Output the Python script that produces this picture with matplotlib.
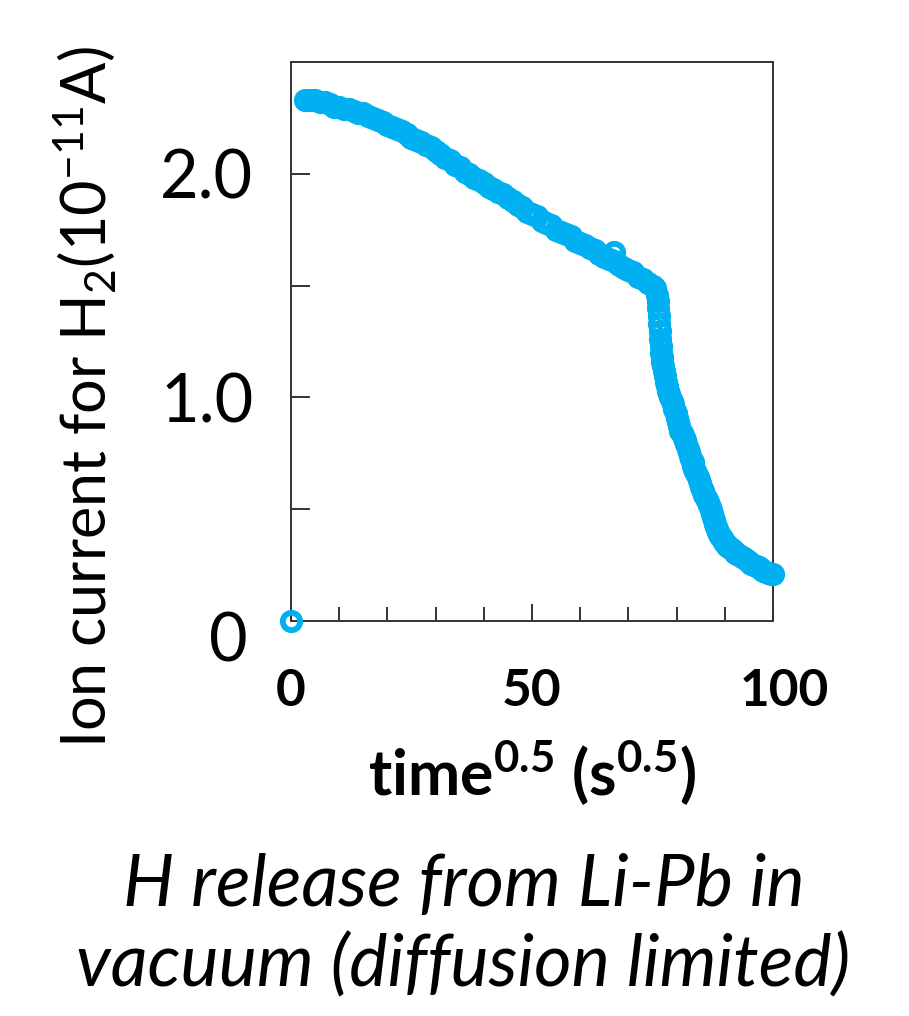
import matplotlib
matplotlib.use("Agg")
import matplotlib.pyplot as plt
from matplotlib.ticker import FixedLocator, MultipleLocator
from matplotlib.transforms import ScaledTranslation

# ---- data ----
time_sqrt = [0,
             3, 4, 5, 6, 7, 8, 9, 10, 11, 12, 13, 14, 15, 16, 17, 18, 19, 20,
             21, 22, 23, 24, 25, 26, 27, 28, 29, 30, 31, 32, 33, 34, 35, 36, 37, 38, 39, 40,
             41, 42, 43, 44, 45, 46, 47, 48, 49, 50, 51, 52, 53, 54, 55, 56, 57, 58, 59, 60,
             61, 62, 63, 64, 65, 66, 67, 68, 69, 70, 71, 72, 73, 74, 75, 75.5,
             76.0, 76.1, 76.2, 76.3, 76.4, 76.5, 76.6, 76.7, 76.8, 76.9, 77.0, 77.15, 77.3, 77.5,
             77.7, 77.95, 78.2, 78.45, 78.7, 79.0, 79.3, 79.55, 79.8, 80.05, 80.3, 80.55, 80.8, 81.05,
             81.3, 81.55, 81.8, 82.05, 82.3, 82.55, 82.8, 83.05, 83.3, 83.5, 83.7, 83.9, 84.1, 84.35,
             84.6, 84.85, 85.1, 85.3, 85.5, 85.75, 86.0, 86.25, 86.5, 86.7, 86.9, 87.1, 87.3, 87.5,
             87.7, 87.9, 88.1, 88.35, 88.6, 88.85, 89.1, 89.35, 89.6, 89.9, 90.2, 90.5, 90.8, 91.15,
             91.5, 91.85, 92.2, 92.6, 93, 93.5, 94, 94.5, 95, 95.5, 96, 96.5, 97, 97.5, 98, 98.5, 99, 99.5, 100,
             67]
ion_current = [0.0,
               2.33, 2.33, 2.33, 2.32, 2.32, 2.31, 2.30, 2.30, 2.29, 2.29, 2.28, 2.27, 2.27, 2.26, 2.25, 2.24, 2.23, 2.22,
               2.21, 2.20, 2.19, 2.18, 2.16, 2.15, 2.14, 2.13, 2.12, 2.10, 2.09, 2.07, 2.06, 2.04, 2.03, 2.01, 2.00, 1.98, 1.97, 1.96,
               1.94, 1.93, 1.92, 1.91, 1.89, 1.88, 1.86, 1.85, 1.83, 1.82, 1.81, 1.79, 1.78, 1.77, 1.75, 1.74, 1.73, 1.72, 1.70, 1.69,
               1.68, 1.67, 1.66, 1.64, 1.63, 1.62, 1.61, 1.59, 1.58, 1.57, 1.56, 1.54, 1.53, 1.51, 1.50, 1.49,
               1.46, 1.43, 1.40, 1.365, 1.33, 1.295, 1.26, 1.23, 1.20, 1.18, 1.16, 1.14, 1.12, 1.095,
               1.07, 1.05, 1.03, 1.015, 1.00, 0.985, 0.97, 0.95, 0.93, 0.91, 0.89, 0.87, 0.85, 0.84,
               0.83, 0.82, 0.81, 0.79, 0.77, 0.755, 0.74, 0.725, 0.71, 0.695, 0.68, 0.67, 0.66, 0.645,
               0.63, 0.615, 0.60, 0.59, 0.58, 0.565, 0.55, 0.54, 0.53, 0.52, 0.51, 0.495, 0.48, 0.465,
               0.45, 0.435, 0.42, 0.41, 0.40, 0.39, 0.38, 0.37, 0.36, 0.352, 0.345, 0.337, 0.33, 0.325,
               0.32, 0.312, 0.305, 0.30, 0.295, 0.287, 0.28, 0.272, 0.265, 0.257, 0.25, 0.245, 0.24, 0.232, 0.225, 0.22, 0.215, 0.212, 0.21,
               1.65]

x_ticks_labeled = [0, 50, 100]
y_ticks_labeled = [1.0, 2.0]
y_tick_texts = ["1.0", "2.0"]

plt.rcParams['font.family'] = ['Lato', 'DejaVu Sans']
plt.rcParams['mathtext.default'] = 'regular'

fig = plt.figure(figsize=(9.09, 10.16), dpi=100)
ax = fig.add_axes([0.3201, 0.3888, 0.5303, 0.5502])

ax.plot(time_sqrt, ion_current, linestyle='none', marker='o', markersize=12.5,
        markerfacecolor='none', markeredgecolor='#00B0F0', markeredgewidth=4.2,
        clip_on=False, zorder=3)

ax.set_xlim(0, 100)
ax.set_ylim(0, 2.5)

for s in ax.spines.values():
    s.set_linewidth(1.4)
    s.set_color('#333333')

ax.xaxis.set_major_locator(FixedLocator(x_ticks_labeled))
ax.xaxis.set_minor_locator(MultipleLocator(10))
ax.set_xticklabels([str(v) for v in x_ticks_labeled], fontsize=37, fontweight='bold')
ax.tick_params(axis='x', which='major', direction='in', length=12, width=1.4,
               color='#333333', pad=34)
ax.tick_params(axis='x', which='minor', direction='in', length=10, width=1.4, color='#333333')

ax.yaxis.set_major_locator(FixedLocator(y_ticks_labeled))
ax.yaxis.set_minor_locator(FixedLocator([0.5, 1.5]))
ax.set_yticklabels(y_tick_texts, fontsize=48)
ax.tick_params(axis='y', which='both', direction='in', length=14, width=1.4,
               color='#333333', pad=27)

# the "100" label sits a little right of its tick in the reference
lab100 = ax.xaxis.get_major_ticks()[2].label1
lab100.set_transform(lab100.get_transform() + ScaledTranslation(0.11, 0, fig.dpi_scale_trans))

# zero label on y axis (sits slightly below the axis origin)
ax.text(-0.131, -0.039, "0", transform=ax.transAxes, fontsize=48,
        ha='center', va='center')

ax.set_xlabel(r'time$^{0.5}$ (s$^{0.5}$)', fontsize=45, fontweight='bold', labelpad=17)
fig.text(0.094, 0.609, r'Ion current for H$_2$(10$^{-11}$A)', rotation=90,
         fontsize=44, ha='center', va='center')

fig.text(0.51, 0.128, 'H release from Li-Pb in', fontsize=52, style='italic',
         ha='center', va='center')
fig.text(0.51, 0.05, 'vacuum (diffusion limited)', fontsize=52, style='italic',
         ha='center', va='center')

fig.savefig('out.png', dpi=100)
